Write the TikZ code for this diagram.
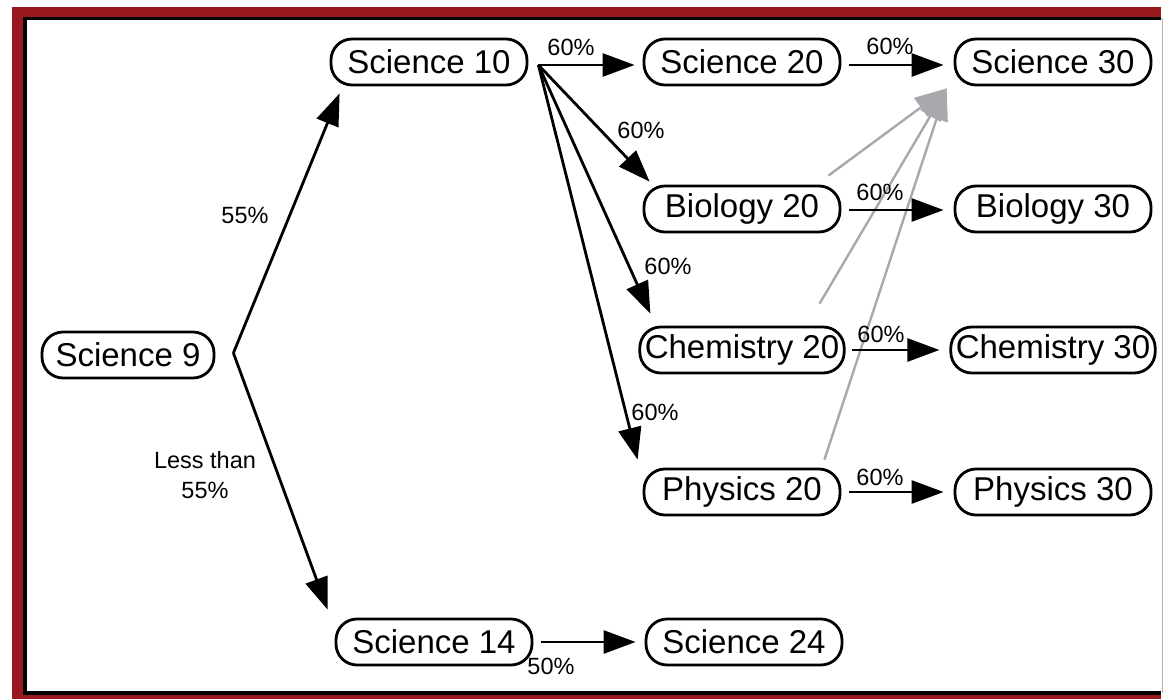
\documentclass[tikz,border=0pt]{standalone}
\usepackage{fontspec}
\setmainfont{Liberation Sans}
\usetikzlibrary{arrows.meta,calc}
\definecolor{framered}{RGB}{152,26,30}
\definecolor{grayarrow}{RGB}{168,169,173}
\begin{document}
\begin{tikzpicture}[x=1pt,y=-1pt,
  course/.style={draw, line width=2.8pt, rounded corners=21pt, minimum width=196pt, minimum height=46pt, inner xsep=5pt, inner ysep=0pt, font=\fontsize{33}{38}\selectfont},
  flow/.style={line width=2.8pt, -{Triangle[length=32pt,width=23pt]}},
  faint/.style={line width=2.4pt, grayarrow, -{Triangle[length=32pt,width=23pt]}},
  pct/.style={font=\fontsize{23.5}{30}\selectfont, inner sep=0pt, align=center}]
\useasboundingbox (0,0) rectangle (1163,699);
% frame
\fill[framered] (12,7) rectangle (1161,699);
\fill[white] (25,18.5) rectangle (1161,693);
\draw[line width=3.5pt] (1161,18.5) -- (25,18.5) -- (25,693) -- (1161,693);
\draw[gray!60, line width=1pt] (1162,18) -- (1162,693);
% nodes
\node[course, minimum width=172pt] (s9) at (128,355) {Science 9};
\node[course] (s10) at (429,62) {Science 10};
\node[course] (s20) at (742,62) {Science 20};
\node[course] (s30) at (1053,62) {Science 30};
\node[course] (b20) at (742,209) {Biology 20};
\node[course] (b30) at (1053,209) {Biology 30};
\node[course] (c20) at (742,350) {Chemistry 20};
\node[course] (c30) at (1053,350) {Chemistry 30};
\node[course] (p20) at (742,492) {Physics 20};
\node[course] (p30) at (1053,492) {Physics 30};
\node[course] (s14) at (434,642) {Science 14};
\node[course] (s24) at (744,642) {Science 24};
% gray arrows
\draw[faint] ($(b20.north east)+(-13,-9)$) -- ($(s30.south west)+(-7,2)$);
\draw[faint] ($(c20.north east)+(-26,-22)$) -- ($(s30.south west)+(-7,2)$);
\draw[faint] ($(p20.north east)+(-17,-8)$) -- ($(s30.south west)+(-7,2)$);
% fork from Science 9
\coordinate (fork) at ($(s9.east)+(18,-2)$);
\draw[flow] (fork) -- ($(s10.south west)+(10,7)$);
\draw[flow] (fork) -- ($(s14.north west)+(-7,-8)$);
% fan from Science 10
\coordinate (fan) at ($(s10.east)+(10,3)$);
\draw[flow] (fan) -- ($(s20.west)+(-8,3)$);
\draw[flow] (fan) -- ($(b20.north west)+(7,-3)$);
\draw[flow] (fan) -- ($(c20.north west)+(12,-12)$);
\draw[flow] (fan) -- ($(p20.north west)+(-5,-8)$);
% horizontal
\draw[flow] ($(s20.east)+(8,3)$) -- ($(s30.west)+(-10,3)$);
\draw[flow] ($(b20.east)+(8,1)$) -- ($(b30.west)+(-10,1)$);
\draw[flow] ($(c20.east)+(6,0)$) -- ($(c30.west)+(-10,0)$);
\draw[flow] ($(p20.east)+(8,0)$) -- ($(p30.west)+(-10,0)$);
\draw[flow] ($(s14.east)+(8,0)$) -- ($(s24.west)+(-9,0)$);
% labels
\node[pct] (l55) at (245,215) {55\%};
\node[pct] (lless) at (205,475) {Less than\\55\%};
\node[pct] (la) at (571,47) {60\%};
\node[pct] (lb) at (641,130) {60\%};
\node[pct] (lc) at (668,266) {60\%};
\node[pct] (ld) at (655,412) {60\%};
\node[pct] (le) at (890,46) {60\%};
\node[pct] (lf) at (880,192) {60\%};
\node[pct] (lg) at (881,334) {60\%};
\node[pct] (lh) at (880,477) {60\%};
\node[pct] (li) at (551,666) {50\%};
\end{tikzpicture}
\end{document}
